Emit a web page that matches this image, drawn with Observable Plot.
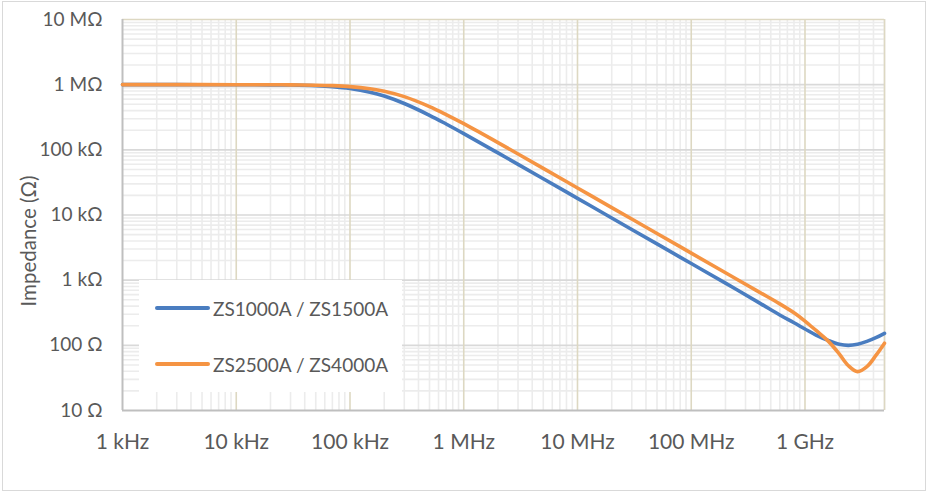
<!DOCTYPE html>
<html>
<head>
<meta charset="utf-8">
<script src="https://cdn.jsdelivr.net/npm/d3@7"></script>
<script src="https://cdn.jsdelivr.net/npm/@observablehq/plot@0.6"></script>
<style>
  body { margin: 0; background: #fff; }
  #wrap { position: relative; width: 928px; height: 493px; font-family: Lato, sans-serif; }
  #border { position: absolute; left: 2px; top: 1px; width: 922px; height: 488px; border: 1px solid #d9d9d9; pointer-events: none; }
  #legend { position: absolute; left: 139px; top: 280px; width: 263px; height: 112px; background: #fff; }
  .item { position: absolute; left: 16px; height: 24px; display: flex; align-items: center; font-size: 19px; color: #595959; white-space: nowrap; }
  .sw { width: 55px; height: 4px; border-radius: 2px; margin-right: 3px; }
  svg g[aria-label="x-axis tick label"] text { font-size: 21px; }
  svg g[aria-label="y-axis tick label"] text { font-size: 19px; }
</style>
</head>
<body>
<div id="wrap"><div id="border"></div></div>
<script>
// ---- data ----
const freqHz = [1e3, 3e3, 1e4, 2e4, 3e4, 5e4, 7e4, 1e5, 1.5e5, 2e5, 3e5, 5e5, 7e5, 1e6, 2e6, 5e6, 1e7, 2e7, 5e7, 1e8, 2e8, 4e8, 6e8, 8e8, 1e9, 1.25e9, 1.6e9, 2e9, 2.4e9, 2.9e9, 3.5e9, 4.2e9, 5e9];
const zs1000 = [1.0e6, 1.0e6, 0.998e6, 0.994e6, 0.986e6, 0.963e6, 0.932e6, 0.874e6, 0.768e6, 0.669e6, 0.514e6, 0.339e6, 0.249e6, 0.177e6, 89.6e3, 36e3, 18e3, 9.0e3, 3.6e3, 1.8e3, 900, 445, 292, 222, 178, 144, 119, 104, 100, 104, 115, 131, 153];
const zs2500 = [1.0e6, 1.0e6, 0.999e6, 0.997e6, 0.993e6, 0.982e6, 0.966e6, 0.934e6, 0.866e6, 0.793e6, 0.655e6, 0.461e6, 0.348e6, 0.252e6, 129e3, 52e3, 26e3, 13e3, 5.2e3, 2.6e3, 1.3e3, 650, 433, 316, 236, 169, 116, 74, 49, 39.5, 47, 70, 108];
const seriesNames = ["ZS1000A / ZS1500A", "ZS2500A / ZS4000A"];
const seriesColors = ["#4A7DC0", "#F59443"];
const xTickValues = [1e3, 1e4, 1e5, 1e6, 1e7, 1e8, 1e9];
const xTickLabels = ["1 kHz", "10 kHz", "100 kHz", "1 MHz", "10 MHz", "100 MHz", "1 GHz"];
const yTickValues = [10, 100, 1e3, 1e4, 1e5, 1e6, 1e7];
const yTickLabels = ["10 Ω", "100 Ω", "1 kΩ", "10 kΩ", "100 kΩ", "1 MΩ", "10 MΩ"];
const xDomain = [1e3, 5e9];
const yDomain = [10, 1e7];
const yTitle = "Impedance (Ω)";

// ---- build table ----
const rows = freqHz.flatMap((f, i) => [
  {f, z: zs1000[i], s: seriesNames[0]},
  {f, z: zs2500[i], s: seriesNames[1]}
]);
const minor = (decades, max) => decades.flatMap(d => [2,3,4,5,6,7,8,9].map(k => d * k)).filter(v => v <= max);
const minorX = minor(xTickValues, xDomain[1]);
const minorY = minor(yTickValues.slice(0, -1), yDomain[1]);

const plot = Plot.plot({
  width: 928,
  height: 493,
  marginLeft: 122,
  marginRight: 44,
  marginTop: 19,
  marginBottom: 83,
  style: {fontFamily: "Lato, sans-serif", color: "#595959", background: "transparent"},
  x: {type: "log", domain: xDomain},
  y: {type: "log", domain: yDomain},
  color: {domain: seriesNames, range: seriesColors},
  marks: [
    Plot.ruleX(minorX, {stroke: "#ececec", strokeWidth: 1.6}),
    Plot.ruleY(minorY, {stroke: "#ececec", strokeWidth: 1.6}),
    Plot.ruleY(yTickValues.slice(1, -1), {stroke: "#d9d9d9", strokeWidth: 1.6}),
    Plot.ruleX(xTickValues.slice(1), {stroke: "#ddd8c2", strokeWidth: 1.6}),
    Plot.ruleX([xDomain[1]], {stroke: "#ddd8c2", strokeWidth: 1.6}),
    Plot.ruleY([yDomain[1]], {stroke: "#ddd8c2", strokeWidth: 1.6}),
    Plot.ruleX([xDomain[0]], {stroke: "#bfbfbf", strokeWidth: 2}),
    Plot.ruleY([yDomain[0]], {stroke: "#bfbfbf", strokeWidth: 2}),
    Plot.axisX({ticks: xTickValues, tickFormat: d => xTickLabels[xTickValues.indexOf(d)], tickSize: 0, tickPadding: 24, fontSize: 21, label: null}),
    Plot.axisY({ticks: yTickValues, tickFormat: d => yTickLabels[yTickValues.indexOf(d)], tickSize: 0, tickPadding: 20, fontSize: 19, label: null}),
    Plot.line(rows, {x: "f", y: "z", z: "s", stroke: "s", strokeWidth: 3.6, curve: "catmull-rom", strokeLinecap: "round"}),
    Plot.text([yTitle], {text: d => d, frameAnchor: "left", textAnchor: "middle", rotate: -90, dx: -93, dy: 26, fontSize: 20.5, fill: "#595959"})
  ]
});

const wrap = document.getElementById("wrap");
wrap.insertBefore(plot, wrap.firstChild);

// legend overlay (inside the plot area, as in the reference)
const legend = document.createElement("div");
legend.id = "legend";
const rowTops = [16, 72];
seriesNames.forEach((name, i) => {
  const item = document.createElement("div");
  item.className = "item";
  item.style.top = rowTops[i] + "px";
  const sw = document.createElement("div");
  sw.className = "sw";
  sw.style.background = seriesColors[i];
  const label = document.createElement("span");
  label.textContent = name;
  item.appendChild(sw);
  item.appendChild(label);
  legend.appendChild(item);
});
wrap.appendChild(legend);
</script>
</body>
</html>
